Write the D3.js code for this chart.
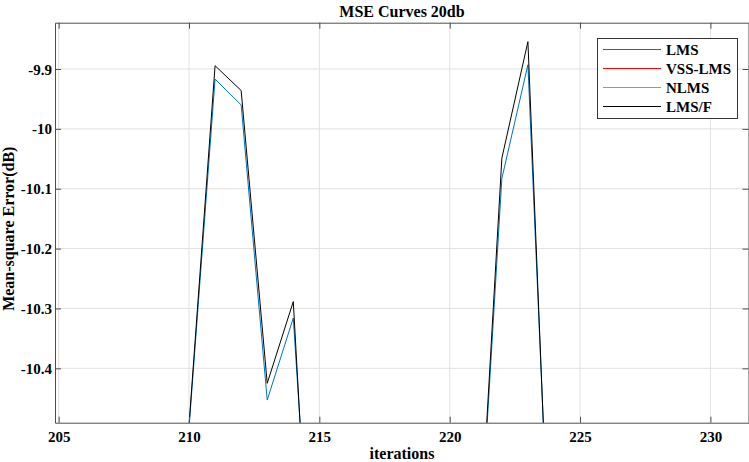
<!DOCTYPE html>
<html>
<head>
<meta charset="utf-8">
<script src="https://cdn.jsdelivr.net/npm/d3@7/dist/d3.min.js"></script>
<style>
  html, body { margin: 0; padding: 0; background: #fff; }
  svg { display: block; }
  text { font-family: "Liberation Serif", "Times New Roman", serif; font-weight: bold; fill: #000; }
</style>
</head>
<body>
<svg id="chart" width="749" height="462"></svg>
<script>
// ---- data ----
const iterations = [205, 206, 207, 208, 209, 210, 211, 212, 213, 214, 215, 216, 217, 218, 219, 220, 221, 222, 223, 224, 225, 226, 227, 228, 229, 230, 231, 232];
const lmsValues    = [-10.78, -10.92, -10.70, -10.85, -10.74, -10.50, -9.917, -9.960, -10.453, -10.316, -10.987, -10.82, -10.95, -10.76, -10.88, -10.79, -10.81, -10.083, -9.893, -10.906, -10.84, -10.72, -10.90, -10.77, -10.86, -10.80, -10.93, -10.75];
const vssLmsValues = [-11.42, -11.55, -11.36, -11.60, -11.47, -11.38, -11.29, -11.51, -11.62, -11.44, -11.57, -11.40, -11.53, -11.35, -11.66, -11.48, -11.39, -11.30, -11.45, -11.58, -11.41, -11.63, -11.37, -11.52, -11.46, -11.59, -11.43, -11.50];
const nlmsValues   = [-11.12, -11.25, -11.08, -11.31, -11.17, -11.06, -10.98, -11.21, -11.34, -11.14, -11.28, -11.10, -11.23, -11.05, -11.36, -11.19, -11.09, -11.02, -11.16, -11.29, -11.11, -11.33, -11.07, -11.22, -11.15, -11.27, -11.13, -11.20];
const lmsfValues   = [-10.80, -10.95, -10.72, -10.88, -10.77, -10.495, -9.8945, -9.936, -10.425, -10.2885, -11.067, -10.85, -10.97, -10.79, -10.90, -10.82, -10.81, -10.049, -9.8544, -10.933, -10.86, -10.74, -10.92, -10.79, -10.88, -10.83, -10.95, -10.78];

const seriesNames  = ["LMS", "VSS-LMS", "NLMS", "LMS/F"];
const seriesColors = ["#0072BD", "#FF0000", "#00FF00", "#000000"];
const xTicks = [205, 210, 215, 220, 225, 230];
const yTicks = [-9.9, -10, -10.1, -10.2, -10.3, -10.4];
const yTickLabels = ["-9.9", "-10", "-10.1", "-10.2", "-10.3", "-10.4"];
const titleText = "MSE Curves 20db";
const xLabelText = "iterations";
const yLabelText = "Mean-square Error(dB)";

(function () {
const svg = d3.select("#chart");
const pl = 55, pr = 749, pt = 22.7, pb = 422.7;

const x = d3.scaleLinear().domain([204.86, 231.48]).range([pl, pr]);
const y = d3.scaleLinear().domain([-10.4908, -9.8227]).range([pb, pt]);

const gridColor = "#e1e1e1";
const axisColor = "#4d4d4d";

svg.append("defs").append("clipPath").attr("id", "plotclip")
  .append("rect").attr("x", pl).attr("y", pt).attr("width", pr - pl).attr("height", pb - pt);

// grid
const grid = svg.append("g");
grid.selectAll("line.gx").data(xTicks).join("line").attr("class", "gx")
  .attr("x1", d => x(d)).attr("x2", d => x(d))
  .attr("y1", pt).attr("y2", pb)
  .attr("stroke", gridColor).attr("stroke-width", 1);
grid.selectAll("line.gy").data(yTicks).join("line").attr("class", "gy")
  .attr("y1", d => y(d)).attr("y2", d => y(d))
  .attr("x1", pl).attr("x2", pr)
  .attr("stroke", gridColor).attr("stroke-width", 1);

// series lines
const seriesData = [lmsValues, vssLmsValues, nlmsValues, lmsfValues];
const line = d3.line().x((d, i) => x(iterations[i])).y(d => y(d));
const lines = svg.append("g").attr("clip-path", "url(#plotclip)");
seriesData.forEach((vals, k) => {
  lines.append("path").datum(vals)
    .attr("d", line)
    .attr("fill", "none")
    .attr("stroke", seriesColors[k])
    .attr("stroke-width", 1);
});

// axes (box with inward ticks)
const tickLen = 6;
const bottomAxis = d3.axisBottom(x).tickValues(xTicks).tickSize(0).tickFormat(d => String(d));
const topAxis = d3.axisTop(x).tickValues(xTicks).tickSize(0).tickFormat("");
const leftAxis = d3.axisLeft(y).tickValues(yTicks).tickSize(0).tickFormat((d, i) => yTickLabels[i]);
const rightAxis = d3.axisRight(y).tickValues(yTicks).tickSize(0).tickFormat("");

const gB = svg.append("g").attr("transform", `translate(0,${pb})`).call(bottomAxis);
const gT = svg.append("g").attr("transform", `translate(0,${pt})`).call(topAxis);
const gL = svg.append("g").attr("transform", `translate(${pl},0)`).call(leftAxis);
const gR = svg.append("g").attr("transform", `translate(${pr - 0.5},0)`).call(rightAxis);

[gB, gT, gL, gR].forEach(g => {
  g.select(".domain").attr("stroke", axisColor).attr("stroke-width", 1);
});
gB.selectAll(".tick line").attr("y2", -tickLen).attr("stroke", axisColor);
gT.selectAll(".tick line").attr("y2", tickLen).attr("stroke", axisColor);
gL.selectAll(".tick line").attr("x2", tickLen).attr("stroke", axisColor);
gR.selectAll(".tick line").attr("x2", -tickLen).attr("stroke", axisColor);

gB.selectAll(".tick text")
  .attr("y", 19).attr("dy", 0)
  .style("font-family", "'Liberation Serif', serif").style("font-weight", "bold")
  .style("font-size", "15px").attr("fill", "#000");
gL.selectAll(".tick text")
  .attr("x", -3).attr("dy", "0.34em")
  .style("font-family", "'Liberation Serif', serif").style("font-weight", "bold")
  .style("font-size", "15px").attr("fill", "#000");

// title and labels
svg.append("text").attr("x", (pl + pr) / 2).attr("y", 17)
  .attr("text-anchor", "middle").style("font-size", "16px").text(titleText);
svg.append("text").attr("x", (pl + pr) / 2).attr("y", 459)
  .attr("text-anchor", "middle").style("font-size", "16px").text(xLabelText);
svg.append("text")
  .attr("transform", `translate(14,${(pt + pb) / 2 + 6}) rotate(-90)`)
  .attr("text-anchor", "middle").style("font-size", "16px").text(yLabelText);

// legend
const lg = svg.append("g");
lg.append("rect").attr("x", 597.5).attr("y", 38.5).attr("width", 140).attr("height", 80)
  .attr("fill", "#fff").attr("stroke", "#333").attr("stroke-width", 1);
seriesNames.forEach((name, k) => {
  const cy = Math.round(49 + k * 19.1) + 0.5;
  lg.append("line").attr("x1", 603).attr("x2", 661).attr("y1", cy).attr("y2", cy)
    .attr("stroke", seriesColors[k]).attr("stroke-width", 1);
  lg.append("text").attr("x", 666).attr("y", cy + 5)
    .style("font-size", "15px").text(name);
});
})();
</script>
</body>
</html>
